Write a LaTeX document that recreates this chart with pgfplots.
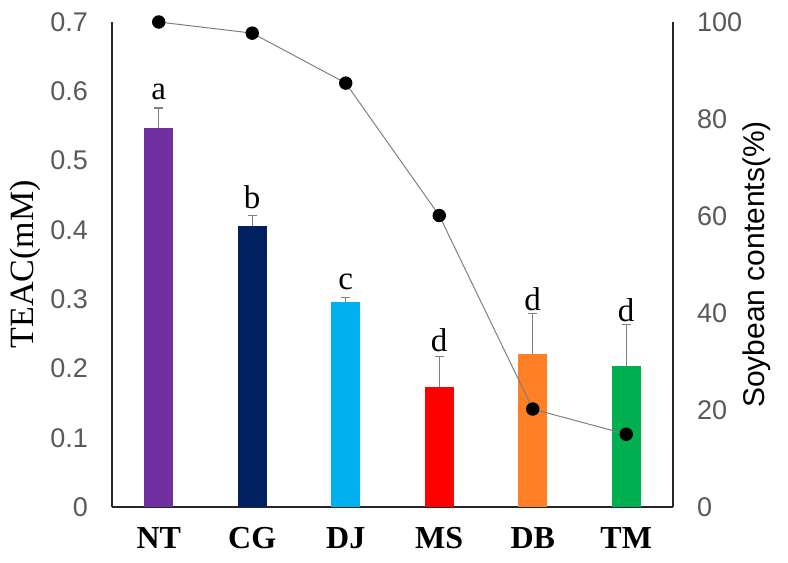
\documentclass[border=0pt]{standalone}
\usepackage{pgfplots}
\pgfplotsset{compat=1.18}
\usepackage{fontspec}
\setmainfont{Liberation Serif}
\newfontfamily\arial{Liberation Sans}
\definecolor{cNT}{HTML}{7030A0}
\definecolor{cCG}{HTML}{002060}
\definecolor{cDJ}{HTML}{00B0F0}
\definecolor{cMS}{HTML}{FF0000}
\definecolor{cDB}{HTML}{FF7F27}
\definecolor{cTM}{HTML}{00B050}
\definecolor{tickgray}{HTML}{595959}
\definecolor{axcol}{HTML}{262626}
\begin{document}
\begin{tikzpicture}
\path[use as bounding box] (-112bp,-56bp) rectangle (676bp,507bp);
\pgfplotsset{
  base/.style={
    scale only axis, width=561bp, height=485bp,
    xmin=-0.5, xmax=5.5, clip=false,
    major tick length=0pt,
    axis line style={axcol, line width=1.2bp},
    /pgf/number format/assume math mode=true,
    scaled y ticks=false,
  }
}
\begin{axis}[base,
  ybar, bar width=29bp,
  ymin=0, ymax=0.7,
  axis x line*=bottom, axis y line*=left,
  xtick={0,1,2,3,4,5},
  xticklabels={NT,CG,DJ,MS,DB,TM},
  xticklabel style={font=\fontsize{32bp}{32bp}\selectfont\bfseries, anchor=north, inner sep=0pt, yshift=-20bp},
  ytick={0,0.1,0.2,0.3,0.4,0.5,0.6,0.7},
  yticklabel style={font=\arial\fontsize{27bp}{27bp}\selectfont, text=tickgray, anchor=east, inner sep=0pt, xshift=-24bp,
    /pgf/number format/.cd, fixed, precision=1},
  ylabel={TEAC(mM)},
  ylabel style={font=\fontsize{34bp}{34bp}\selectfont, at={(axis description cs:-0.155,0.5)}, anchor=center},
  error bars/y dir=plus, error bars/y explicit,
  error bars/error bar style={gray, line width=1.2bp},
  error bars/error mark options={gray, line width=1.2bp, mark size=4.5bp, rotate=90},
]
\addplot[fill=cNT, draw=none, bar shift=0pt] coordinates {(0,0.547) +- (0,0.029)};
\addplot[fill=cCG, draw=none, bar shift=0pt] coordinates {(1,0.405) +- (0,0.016)};
\addplot[fill=cDJ, draw=none, bar shift=0pt] coordinates {(2,0.296) +- (0,0.006)};
\addplot[fill=cMS, draw=none, bar shift=0pt] coordinates {(3,0.173) +- (0,0.044)};
\addplot[fill=cDB, draw=none, bar shift=0pt] coordinates {(4,0.221) +- (0,0.058)};
\addplot[fill=cTM, draw=none, bar shift=0pt] coordinates {(5,0.204) +- (0,0.059)};
\begin{scope}[every node/.style={font=\fontsize{33bp}{33bp}\selectfont, anchor=base, inner sep=0pt}]
\node[yshift=8bp] at (axis cs:0,0.576) {a};
\node[yshift=7bp] at (axis cs:1,0.421) {b};
\node[yshift=8bp] at (axis cs:2,0.302) {c};
\node[yshift=5bp] at (axis cs:3,0.217) {d};
\node[yshift=3bp] at (axis cs:4,0.279) {d};
\node[yshift=3bp] at (axis cs:5,0.263) {d};
\end{scope}
\end{axis}
\begin{axis}[base,
  ymin=0, ymax=100,
  axis x line=none, axis y line*=right,
  ytick={0,20,40,60,80,100},
  yticklabel style={font=\arial\fontsize{27bp}{27bp}\selectfont, text=tickgray, anchor=west, inner sep=0pt, xshift=24bp},
  ylabel={Soybean contents(\%)},
  ylabel style={font=\arial\fontsize{30bp}{30bp}\selectfont, at={(axis description cs:1.150,0.5)}, anchor=center, rotate=0},
]
\addplot[color=gray, line width=1bp, mark=*, mark size=6.2bp, mark options={draw=black, fill=black}]
  coordinates {(0,100) (1,97.7) (2,87.4) (3,60.1) (4,20.2) (5,15.0)};
\end{axis}
\end{tikzpicture}
\end{document}
